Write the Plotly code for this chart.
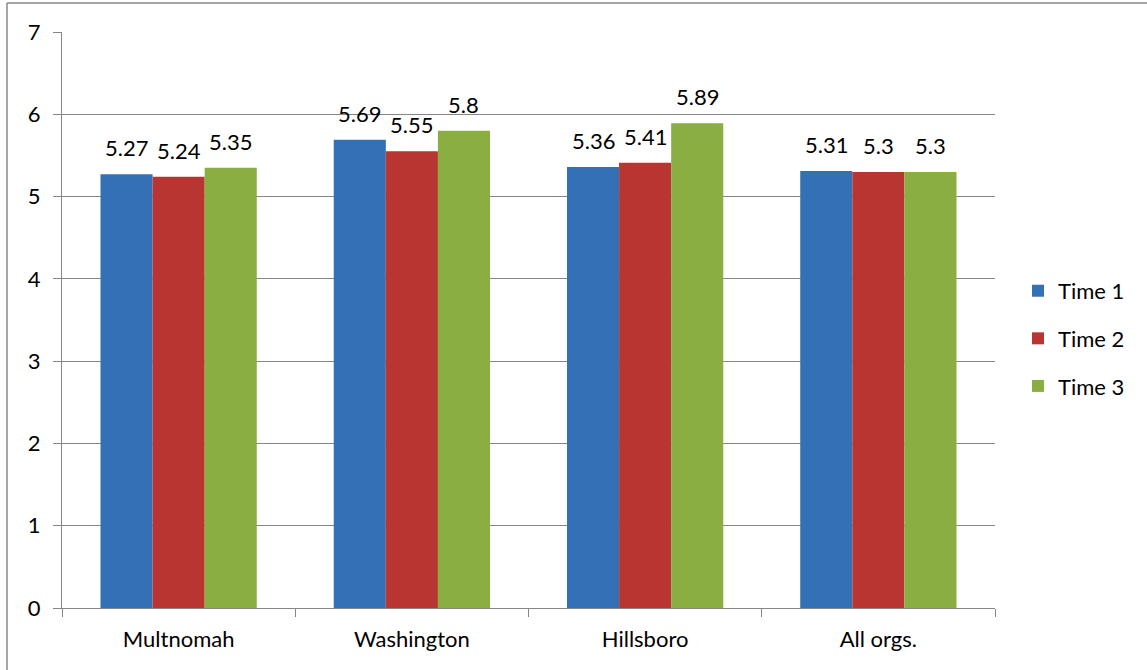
import plotly.graph_objects as go

# Category labels and the three survey waves
categories = ["Multnomah", "Washington", "Hillsboro", "All orgs."]
series_names = ["Time 1", "Time 2", "Time 3"]
time1 = [5.27, 5.69, 5.36, 5.31]
time2 = [5.24, 5.55, 5.41, 5.3]
time3 = [5.35, 5.8, 5.89, 5.3]
y_ticks = [0, 1, 2, 3, 4, 5, 6, 7]

colors = ["#3470b6", "#b93532", "#8aae42"]
font_family = "Lato, 'Open Sans', sans-serif"
font_size = 22

W, H = 1147, 670
ml, mr, mt, mb = 62, 152, 32, 62
pw, ph = W - ml - mr, H - mt - mb
bargap = 0.33
n_series = len(series_names)
bar_px = pw / len(categories) * (1 - bargap) / n_series


def px_x(px):
    return (px - ml) / pw


def px_y(py):
    return (H - mb - py) / ph


fig = go.Figure()
annotations = []
for i, (name, vals, col) in enumerate(zip(series_names, [time1, time2, time3], colors)):
    fig.add_trace(go.Bar(
        name=name,
        x=categories,
        y=vals,
        marker=dict(color=col, line=dict(width=0)),
        legendgroup=name,
    ))
    # value labels sitting above each bar
    for cat, v in zip(categories, vals):
        annotations.append(dict(
            x=cat, y=v, xref="x", yref="y",
            text=f"{v:g}", showarrow=False,
            xanchor="center", yanchor="bottom",
            xshift=(i - (n_series - 1) / 2) * bar_px,
            yshift=11,
            font=dict(size=font_size, color="#000000", family=font_family),
        ))

fig.update_layout(
    width=W, height=H,
    margin=dict(l=ml, r=mr, t=mt, b=mb),
    paper_bgcolor="white",
    plot_bgcolor="white",
    barmode="group",
    bargap=bargap,
    bargroupgap=0,
    font=dict(family=font_family, size=font_size, color="#000000"),
    legend=dict(
        x=px_x(1018), y=0.468, xanchor="left", yanchor="middle",
        font=dict(size=font_size),
        traceorder="grouped",
        tracegroupgap=16,
        itemwidth=30,
    ),
    xaxis=dict(
        showgrid=False,
        showline=True, linecolor="#868686", linewidth=1,
        ticks="outside", tickson="boundaries", ticklen=8, tickcolor="#868686",
        tickfont=dict(size=font_size),
        ticklabelstandoff=12,
    ),
    yaxis=dict(
        range=[0, 7], tickvals=y_ticks,
        showgrid=True, gridcolor="#868686", gridwidth=1,
        showline=True, linecolor="#868686", linewidth=1,
        ticks="outside", ticklen=8, tickcolor="#868686",
        tickfont=dict(size=font_size),
        ticklabelstandoff=8,
        zeroline=False,
    ),
    annotations=annotations,
    shapes=[
        dict(type="line", xref="paper", yref="paper",
             x0=px_x(7), x1=px_x(1200), y0=px_y(3), y1=px_y(3),
             line=dict(color="#888888", width=1.5)),
        dict(type="line", xref="paper", yref="paper",
             x0=px_x(7), x1=px_x(7), y0=px_y(3), y1=px_y(700),
             line=dict(color="#888888", width=1.5)),
    ],
)

fig.write_html("out.html")
